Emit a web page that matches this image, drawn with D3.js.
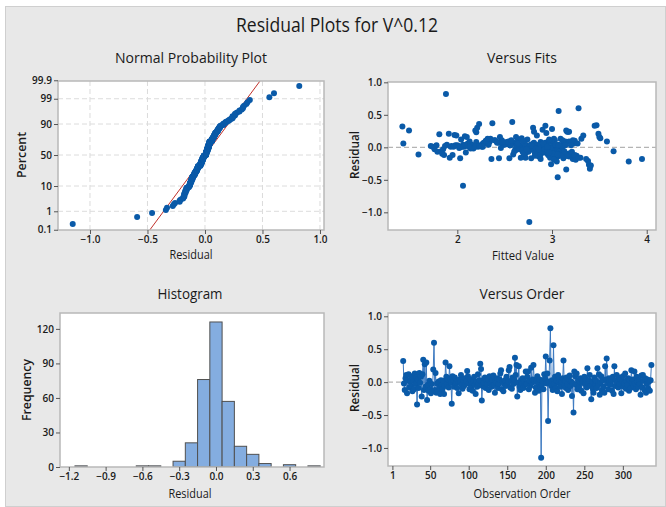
<!DOCTYPE html>
<html>
<head>
<meta charset="utf-8">
<script src="https://cdn.jsdelivr.net/npm/d3@7"></script>
<style>
  body { margin: 0; background: #fff; }
  text { font-family: "Open Sans", "Noto Sans", sans-serif; fill: #1a1a1a; }
</style>
</head>
<body>
<div id="chart"></div>
<script>
// residuals in observation order, first observation is 15
const firstObs = 15;
const residuals = [
  0.32, -0.02, -0.12, 0.06, 0.11, -0.17, 0.03, 0.12, -0.08, 0.01,
  -0.06, 0.09, -0.14, 0.02, -0.11, 0.13, -0.03, 0.07, -0.34, 0.04,
  -0.09, 0.14, -0.01, 0.08, -0.22, 0.12, 0.34, -0.12, 0.27, -0.07,
  0.30, -0.27, -0.04, -0.13, 0.02, -0.11, -0.17, -0.03, -0.14, 0.19,
  0.60, -0.12, 0.14, -0.16, -0.02, -0.13, 0.01, -0.09, -0.18, 0.03,
  -0.04, -0.11, 0.02, -0.18, -0.06, 0.30, 0.08, -0.03, 0.04, -0.08,
  0.24, 0.06, -0.01, -0.33, 0.09, 0.03, -0.07, 0.07, -0.02, 0.01,
  -0.09, 0.02, -0.17, 0.04, -0.01, 0.11, -0.04, -0.10, 0.03, -0.06,
  0.06, -0.03, 0.01, 0.17, 0.09, -0.02, -0.11, 0.04, -0.08, 0.00,
  -0.13, 0.02, 0.08, -0.04, -0.18, 0.01, -0.07, 0.12, -0.02, 0.03,
  0.28, 0.20, -0.28, -0.06, 0.03, -0.01, 0.07, -0.09, 0.02, -0.03,
  0.04, -0.12, 0.09, -0.02, 0.01, -0.07, 0.03, 0.10, -0.04, -0.16,
  0.02, -0.01, 0.06, -0.09, -0.03, 0.04, 0.13, 0.18, -0.11, 0.01,
  -0.14, -0.02, 0.03, -0.06, 0.08, -0.04, 0.01, 0.18, 0.23, -0.08,
  0.02, -0.10, 0.07, -0.03, 0.04, 0.37, 0.11, 0.26, -0.22, -0.01,
  0.24, -0.07, -0.12, 0.03, -0.02, 0.06, -0.09, 0.01, -0.04, 0.16,
  -0.03, 0.08, 0.16, -0.11, 0.02, -0.06, 0.22, -0.01, 0.04, 0.26,
  0.03, -0.16, -0.08, 0.01, 0.09, -0.02, -0.13, 0.04, -0.07, -1.15,
  -0.04, 0.02, -0.11, 0.12, 0.06, 0.39, -0.02, 0.13, -0.59, 0.01,
  0.33, 0.82, -0.06, 0.03, -0.12, 0.56, -0.03, 0.08, -0.09, 0.02,
  -0.14, 0.11, -0.01, 0.04, -0.07, 0.01, -0.18, 0.06, 0.33, -0.04,
  0.02, -0.09, 0.07, -0.03, -0.12, 0.04, 0.10, -0.06, 0.01, -0.21,
  -0.02, -0.46, 0.16, 0.09, -0.04, 0.13, -0.11, 0.03, -0.07, 0.01,
  0.06, -0.13, -0.01, 0.02, -0.17, 0.08, -0.03, 0.04, -0.08, 0.21,
  -0.02, 0.03, 0.11, -0.06, -0.26, 0.01, -0.10, -0.16, 0.07, -0.03,
  0.02, -0.09, 0.21, -0.04, 0.12, -0.19, 0.00, 0.09, -0.12, 0.03,
  -0.07, -0.16, 0.24, 0.04, 0.36, -0.02, -0.11, 0.06, 0.01, -0.04,
  0.03, -0.13, 0.08, -0.18, 0.24, -0.06, 0.02, 0.11, -0.01, -0.08,
  0.07, -0.03, 0.04, -0.17, 0.01, 0.09, -0.07, -0.02, 0.13, -0.10,
  0.02, -0.04, 0.06, -0.13, 0.03, -0.09, 0.18, -0.01, 0.04, -0.06,
  0.16, -0.02, -0.11, 0.08, 0.01, -0.07, 0.03, -0.03, -0.19, 0.10,
  -0.08, 0.11, 0.02, -0.12, 0.06, -0.16, -0.03, 0.04, -0.10, 0.01,
  -0.13, 0.03, 0.26
];
// fitted values, same order
const fitted = [
  1.42, 2.62, 1.86, 1.43, 2.47, 2.55, 3.08, 2.74, 2.98, 1.74,
  3.65, 3.58, 2.86, 2.69, 1.59, 3.02, 1.76, 2.93, 3.15, 2.78,
  2.96, 3.51, 2.02, 2.88, 3.81, 2.64, 3.47, 3.11, 2.90, 1.79,
  2.21, 3.39, 2.81, 2.99, 2.12, 3.19, 2.03, 2.76, 3.06, 1.97,
  3.28, 1.95, 2.68, 1.92, 2.85, 3.14, 2.05, 2.95, 3.22, 2.73,
  2.61, 3.03, 1.72, 2.36, 2.89, 2.80, 2.42, 3.09, 2.15, 2.97,
  3.16, 2.54, 2.84, 3.40, 2.31, 1.98, 3.12, 2.60, 2.94, 2.79,
  3.07, 2.18, 2.44, 2.87, 3.01, 2.39, 2.75, 3.17, 2.56, 1.83,
  2.28, 2.82, 2.26, 2.08, 2.70, 2.93, 3.21, 2.63, 2.09, 2.78,
  3.26, 1.94, 2.34, 2.86, 3.95, 2.74, 3.04, 2.04, 2.90, 2.65,
  3.00, 1.81, 3.41, 2.84, 2.24, 2.95, 3.13, 2.72, 2.81, 3.06,
  2.48, 2.96, 2.13, 2.79, 3.10, 2.69, 2.00, 3.24, 2.62, 2.72,
  2.92, 2.77, 2.27, 3.02, 2.85, 1.89, 3.31, 2.84, 2.96, 2.68,
  3.18, 2.83, 2.16, 2.94, 3.15, 2.71, 2.07, 3.33, 2.20, 2.89,
  2.76, 3.08, 2.28, 2.98, 2.33, 2.37, 3.03, 1.49, 3.05, 2.80,
  3.18, 2.91, 3.20, 1.78, 2.86, 2.11, 2.99, 2.73, 3.11, 2.45,
  2.66, 3.00, 3.50, 2.88, 2.01, 3.09, 2.94, 2.79, 2.50, 3.15,
  2.85, 3.30, 2.92, 2.70, 3.14, 2.17, 2.97, 2.55, 3.07, 2.76,
  2.89, 2.25, 3.01, 2.67, 3.23, 2.58, 2.14, 2.35, 2.06, 2.95,
  2.93, 1.88, 2.74, 3.05, 2.87, 3.07, 1.85, 2.97, 3.19, 2.83,
  2.99, 2.40, 2.71, 3.12, 2.90, 2.22, 2.88, 3.27, 3.45, 2.77,
  2.62, 3.04, 2.81, 2.95, 3.16, 2.06, 2.30, 2.86, 3.00, 3.38,
  2.75, 3.06, 2.10, 2.96, 2.84, 3.09, 2.59, 2.92, 3.21, 1.93,
  2.80, 3.13, 2.46, 2.89, 3.12, 2.20, 2.98, 2.78, 3.02, 1.91,
  2.87, 2.56, 3.22, 2.93, 2.99, 2.12, 3.06, 2.67, 2.44, 2.91,
  3.10, 2.82, 3.49, 2.69, 2.97, 3.25, 2.03, 2.54, 3.03, 2.85,
  2.94, 2.98, 3.17, 2.63, 2.23, 2.88, 3.08, 2.71, 2.27, 3.00,
  2.77, 3.15, 2.52, 3.36, 2.81, 2.90, 1.87, 3.11, 2.86, 2.96,
  2.42, 2.74, 3.04, 2.78, 2.19, 3.18, 2.60, 2.92, 2.32, 3.01,
  2.79, 2.95, 2.64, 3.10, 2.08, 2.70, 1.99, 2.98, 2.88, 3.13,
  2.62, 2.83, 3.06, 2.48, 1.96, 2.75, 3.20, 2.86, 3.02, 2.69,
  2.97, 2.57, 2.23, 3.24, 2.91, 3.28, 2.73, 3.07, 1.84, 2.95,
  2.82, 3.14, 2.19
];

// tick labels
const percentTicks = [0.1, 1, 10, 50, 90, 99, 99.9];
const residTicks = [-1.0, -0.5, 0.0, 0.5, 1.0];
const fitTicks = [2, 3, 4];
const histTicks = [-1.2, -0.9, -0.6, -0.3, 0.0, 0.3, 0.6];
const freqTicks = [0, 30, 60, 90, 120];
const orderTicks = [1, 50, 100, 150, 200, 250, 300];

const W = 666, H = 507;
const dotColor = "#0a5aa8";
const fmt1 = d3.format(".1f");

// inverse of the standard normal cdf (Acklam)
function probit(p) {
  const a = [-39.69683028665376, 220.9460984245205, -275.9285104469687, 138.3577518672690, -30.66479806614716, 2.506628277459239];
  const b = [-54.47609879822406, 161.5858368580409, -155.6989798598866, 66.80131188771972, -13.28068155288572];
  const c = [-0.007784894002430293, -0.3223964580411365, -2.400758277161838, -2.549732539343734, 4.374664141464968, 2.938163982698783];
  const d = [0.007784695709041462, 0.3224671290700398, 2.445134137142996, 3.754408661907416];
  const pl = 0.02425;
  let q, r;
  if (p < pl) {
    q = Math.sqrt(-2 * Math.log(p));
    return (((((c[0]*q+c[1])*q+c[2])*q+c[3])*q+c[4])*q+c[5]) / ((((d[0]*q+d[1])*q+d[2])*q+d[3])*q+1);
  }
  if (p > 1 - pl) {
    q = Math.sqrt(-2 * Math.log(1 - p));
    return -(((((c[0]*q+c[1])*q+c[2])*q+c[3])*q+c[4])*q+c[5]) / ((((d[0]*q+d[1])*q+d[2])*q+d[3])*q+1);
  }
  q = p - 0.5; r = q * q;
  return (((((a[0]*r+a[1])*r+a[2])*r+a[3])*r+a[4])*r+a[5])*q / (((((b[0]*r+b[1])*r+b[2])*r+b[3])*r+b[4])*r+1);
}

const svg = d3.select("#chart").append("svg")
    .attr("width", W)
    .attr("height", H);

// grey Minitab background
svg.append("rect")
    .attr("x", 5.5).attr("y", 6.5)
    .attr("width", W - 6).attr("height", H - 7)
    .attr("fill", "#e8e8e8")
    .attr("stroke", "#cfcfcf");

svg.append("text")
    .attr("x", 337).attr("y", 32)
    .attr("text-anchor", "middle")
    .attr("font-size", 20)
    .attr("fill", "#111")
    .attr("textLength", 202).attr("lengthAdjust", "spacingAndGlyphs")
    .text("Residual Plots for V^0.12");

let clipId = 0;
// white plot area with clip path
function panel(box) {
  const g = svg.append("g");
  g.append("rect")
      .attr("x", box.x0).attr("y", box.y0)
      .attr("width", box.x1 - box.x0).attr("height", box.y1 - box.y0)
      .attr("fill", "#fff");
  const id = "clip" + (clipId++);
  svg.append("clipPath").attr("id", id)
    .append("rect")
      .attr("x", box.x0).attr("y", box.y0)
      .attr("width", box.x1 - box.x0).attr("height", box.y1 - box.y0);
  const inner = g.append("g").attr("clip-path", `url(#${id})`);
  return {g, inner};
}

function frame(g, box) {
  g.append("rect")
      .attr("x", box.x0).attr("y", box.y0)
      .attr("width", box.x1 - box.x0).attr("height", box.y1 - box.y0)
      .attr("fill", "none")
      .attr("stroke", "#b8b8b8")
      .attr("stroke-width", 1.5);
}

function styleAxis(sel) {
  sel.select(".domain").remove();
  sel.selectAll(".tick line").attr("stroke", "#555");
  sel.selectAll(".tick text")
      .attr("font-size", 10)
      .attr("font-weight", 600)
      .attr("fill", "#333")
      .attr("font-family", "\"Open Sans\", sans-serif");
}

function titles(t, xLab, yLab) {
  svg.append("text")
      .attr("x", t.tx).attr("y", t.ty)
      .attr("text-anchor", "middle")
      .attr("font-size", 14.5)
      .attr("fill", "#111")
      .attr("textLength", t.tw).attr("lengthAdjust", "spacingAndGlyphs")
      .text(t.title);
  svg.append("text")
      .attr("x", t.xx).attr("y", t.xy)
      .attr("text-anchor", "middle")
      .attr("font-size", 12)
      .attr("textLength", t.xw).attr("lengthAdjust", "spacingAndGlyphs")
      .text(xLab);
  svg.append("text")
      .attr("transform", `translate(${t.yx},${t.yy}) rotate(-90)`)
      .attr("text-anchor", "middle")
      .attr("font-size", 12)
      .attr("font-weight", 600)
      .attr("textLength", t.yw).attr("lengthAdjust", "spacingAndGlyphs")
      .text(yLab);
}

// ---------- Normal Probability Plot ----------
{
  const box = {x0: 58, y0: 81, x1: 324, y1: 230};
  const x = d3.scaleLinear().domain([-1.278, 1.035]).range([box.x0, box.x1]);
  const y = d3.scaleLinear().domain([-3.10, 3.06]).range([box.y1, box.y0]);
  const {g, inner} = panel(box);

  const n = residuals.length;
  const sorted = residuals.slice().sort(d3.ascending);
  const pts = sorted.map((r, i) => ({r, z: probit((i + 1 - 0.3) / (n + 0.4))}));
  const mu = d3.mean(residuals), sd = d3.deviation(residuals);

  // dashed grid
  inner.selectAll(".vg").data(residTicks).enter().append("line")
      .attr("x1", d => x(d)).attr("x2", d => x(d))
      .attr("y1", box.y0).attr("y2", box.y1)
      .attr("stroke", "#dcdcdc").attr("stroke-dasharray", "5,3");
  inner.selectAll(".hg").data(percentTicks.slice(1, -1)).enter().append("line")
      .attr("x1", box.x0).attr("x2", box.x1)
      .attr("y1", d => y(probit(d / 100))).attr("y2", d => y(probit(d / 100)))
      .attr("stroke", "#dcdcdc").attr("stroke-dasharray", "5,3");

  // fitted normal line
  inner.append("line")
      .attr("x1", x(mu + sd * -3.3)).attr("y1", y(-3.3))
      .attr("x2", x(mu + sd * 3.3)).attr("y2", y(3.3))
      .attr("stroke", "#c0302a").attr("stroke-width", 1);

  inner.selectAll("circle").data(pts).enter().append("circle")
      .attr("cx", d => x(d.r)).attr("cy", d => y(d.z))
      .attr("r", 3).attr("fill", dotColor);

  frame(g, box);
  g.append("g").attr("transform", `translate(0,${box.y1})`)
      .call(d3.axisBottom(x).tickValues(residTicks).tickFormat(fmt1).tickSize(4).tickPadding(2))
      .call(styleAxis);
  g.append("g").attr("transform", `translate(${box.x0},0)`)
      .call(d3.axisLeft(y).tickValues(percentTicks.map(p => probit(p / 100)))
        .tickFormat((d, i) => percentTicks[i]).tickSize(4).tickPadding(2))
      .call(styleAxis);

  titles({title: "Normal Probability Plot", tx: 191, ty: 63, tw: 152,
          xx: 191, xy: 259, xw: 43, yx: 26, yy: 155, yw: 46}, "Residual", "Percent");
}

// ---------- Versus Fits ----------
{
  const box = {x0: 388, y0: 82, x1: 656, y1: 230};
  const x = d3.scaleLinear().domain([1.268, 4.098]).range([box.x0, box.x1]);
  const y = d3.scaleLinear().domain([-1.272, 1.005]).range([box.y1, box.y0]);
  const {g, inner} = panel(box);

  inner.append("line")
      .attr("x1", box.x0).attr("x2", box.x1)
      .attr("y1", y(0)).attr("y2", y(0))
      .attr("stroke", "#b4b4b4").attr("stroke-width", 1.2).attr("stroke-dasharray", "5,3");

  inner.selectAll("circle").data(residuals).enter().append("circle")
      .attr("cx", (d, i) => x(fitted[i])).attr("cy", d => y(d))
      .attr("r", 3).attr("fill", dotColor);

  frame(g, box);
  g.append("g").attr("transform", `translate(0,${box.y1})`)
      .call(d3.axisBottom(x).tickValues(fitTicks).tickFormat(d3.format("d")).tickSize(4).tickPadding(2))
      .call(styleAxis);
  g.append("g").attr("transform", `translate(${box.x0},0)`)
      .call(d3.axisLeft(y).tickValues(residTicks).tickFormat(fmt1).tickSize(4).tickPadding(2))
      .call(styleAxis);

  titles({title: "Versus Fits", tx: 522, ty: 63, tw: 70,
          xx: 523, xy: 260, xw: 62, yx: 359, yy: 155, yw: 48}, "Fitted Value", "Residual");
}

// ---------- Histogram ----------
{
  const box = {x0: 60, y0: 313, x1: 324, y1: 467};
  const x = d3.scaleLinear().domain([-1.272, 0.881]).range([box.x0, box.x1]);
  const y = d3.scaleLinear().domain([0, 133.8]).range([box.y1, box.y0]);
  const {g, inner} = panel(box);

  const edges = d3.range(0, 22).map(k => -1.25 + k * 0.1);
  const bins = d3.bin().domain([-1.25, 0.85]).thresholds(edges)(residuals)
      .filter(b => b.length > 0);

  inner.selectAll("rect.bar").data(bins).enter().append("rect")
      .attr("class", "bar")
      .attr("x", d => x(d.x0)).attr("width", d => x(d.x1) - x(d.x0))
      .attr("y", d => y(d.length)).attr("height", d => y(0) - y(d.length))
      .attr("fill", "#84ade0")
      .attr("stroke", "#505050").attr("stroke-width", 1);

  frame(g, box);
  g.append("g").attr("transform", `translate(0,${box.y1})`)
      .call(d3.axisBottom(x).tickValues(histTicks).tickFormat(fmt1).tickSize(4).tickPadding(2))
      .call(styleAxis);
  g.append("g").attr("transform", `translate(${box.x0},0)`)
      .call(d3.axisLeft(y).tickValues(freqTicks).tickSize(4).tickPadding(2))
      .call(styleAxis);

  titles({title: "Histogram", tx: 190, ty: 299, tw: 65,
          xx: 190, xy: 498, xw: 43, yx: 31, yy: 390, yw: 62}, "Residual", "Frequency");
}

// ---------- Versus Order ----------
{
  const box = {x0: 388, y0: 313, x1: 656, y1: 466};
  const x = d3.scaleLinear().domain([-4.7, 343]).range([box.x0, box.x1]);
  const y = d3.scaleLinear().domain([-1.274, 1.05]).range([box.y1, box.y0]);
  const {g, inner} = panel(box);

  inner.append("line")
      .attr("x1", box.x0).attr("x2", box.x1)
      .attr("y1", y(0)).attr("y2", y(0))
      .attr("stroke", "#b4b4b4").attr("stroke-width", 1.2).attr("stroke-dasharray", "5,3");

  const line = d3.line()
      .x((d, i) => x(firstObs + i))
      .y(d => y(d));
  inner.append("path").datum(residuals)
      .attr("d", line)
      .attr("fill", "none")
      .attr("stroke", "#3a78c0").attr("stroke-width", 1);

  inner.selectAll("circle").data(residuals).enter().append("circle")
      .attr("cx", (d, i) => x(firstObs + i)).attr("cy", d => y(d))
      .attr("r", 3).attr("fill", dotColor);

  frame(g, box);
  g.append("g").attr("transform", `translate(0,${box.y1})`)
      .call(d3.axisBottom(x).tickValues(orderTicks).tickSize(4).tickPadding(2))
      .call(styleAxis);
  g.append("g").attr("transform", `translate(${box.x0},0)`)
      .call(d3.axisLeft(y).tickValues(residTicks).tickFormat(fmt1).tickSize(4).tickPadding(2))
      .call(styleAxis);

  titles({title: "Versus Order", tx: 522, ty: 299, tw: 85,
          xx: 522, xy: 498, xw: 97, yx: 359, yy: 388, yw: 48}, "Observation Order", "Residual");
}
</script>
</body>
</html>
